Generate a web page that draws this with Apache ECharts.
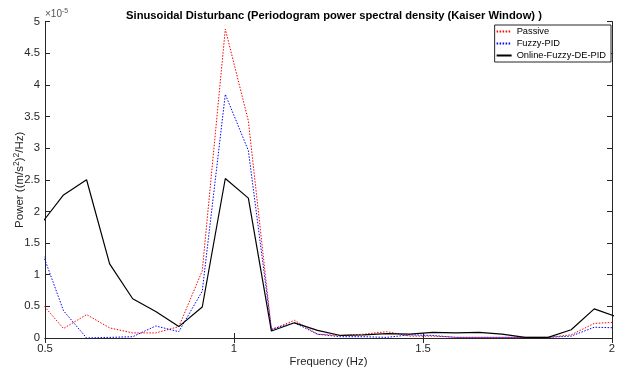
<!DOCTYPE html>
<html>
<head>
<meta charset="utf-8">
<script src="https://cdn.jsdelivr.net/npm/echarts@6/dist/echarts.min.js"></script>
<style>html,body{margin:0;padding:0;background:#fff}#c{width:625px;height:375px}</style>
</head>
<body>
<div id="c"></div>
<script>
// Frequencies (Hz), periodogram bins
var freq = [0.488, 0.549, 0.610, 0.671, 0.732, 0.793, 0.854, 0.916, 0.977, 1.038, 1.099, 1.160, 1.221, 1.282, 1.343, 1.404, 1.465, 1.526, 1.587, 1.648, 1.709, 1.770, 1.831, 1.892, 1.953, 2.014];
// Power values in units of 1e-5 (m/s^2)^2/Hz
var passive = [0.57, 0.15, 0.37, 0.16, 0.08, 0.08, 0.18, 1.06, 4.88, 3.43, 0.13, 0.28, 0.06, 0.04, 0.06, 0.10, 0.03, 0.03, 0.01, 0.01, 0.01, 0.01, 0.01, 0.05, 0.23, 0.25];
var fuzzyPID = [1.43, 0.43, 0.00, 0.01, 0.02, 0.19, 0.10, 0.74, 3.85, 2.96, 0.14, 0.24, 0.06, 0.02, 0.02, 0.01, 0.05, 0.04, 0.01, 0.01, 0.01, 0.01, 0.01, 0.03, 0.17, 0.16];
var onlineFuzzyDEPID = [1.79, 2.26, 2.50, 1.17, 0.62, 0.42, 0.18, 0.49, 2.52, 2.21, 0.11, 0.24, 0.12, 0.04, 0.05, 0.07, 0.06, 0.09, 0.08, 0.09, 0.06, 0.01, 0.01, 0.13, 0.46, 0.33];
var xTicks = [0.5, 1, 1.5, 2];
var seriesNames = ['Passive', 'Fuzzy-PID', 'Online-Fuzzy-DE-PID'];

function pairs(v) { return freq.map(function (f, i) { return [f, v[i]]; }); }

var FONT = 'Liberation Sans, Arial, Helvetica, sans-serif';
var AX = '#262626';
var chart = echarts.init(document.getElementById('c'), null, {renderer: 'canvas'});
var tick = {show: true, inside: true, length: 5, lineStyle: {color: AX, width: 1}};
chart.setOption({
  animation: false,
  backgroundColor: '#fff',
  title: {
    text: 'Sinusoidal Disturbanc (Periodogram power spectral density (Kaiser Window) )',
    left: 329, top: 5, textAlign: 'center',
    textStyle: {fontFamily: FONT, fontSize: 11.2, fontWeight: 'bold', color: '#000'}
  },
  grid: {left: 45, right: 13, top: 21.5, bottom: 37, containLabel: false, outerBoundsMode: 'none'},
  legend: {
    right: 14, top: 25, orient: 'vertical', itemWidth: 15, itemHeight: 9, itemGap: 3,
    padding: [2, 5, 2, 1],
    borderColor: AX, borderWidth: 1, backgroundColor: '#fff',
    itemStyle: {opacity: 0},
    textStyle: {fontFamily: FONT, fontSize: 9.3, color: '#000'},
    data: seriesNames
  },
  graphic: [{
    type: 'text', left: 45, top: 8,
    style: {text: '×10{s|-5}', fontFamily: FONT, fontSize: 10, fill: '#555',
      rich: {s: {fontSize: 7, verticalAlign: 'top', fill: '#555', padding: [0, 0, 6, 0]}}}
  }],
  xAxis: [{
    type: 'value', min: 0.5, max: 2, interval: 0.5,
    name: 'Frequency (Hz)', nameLocation: 'middle', nameGap: 18, nameMoveOverlap: false,
    nameTextStyle: {fontFamily: FONT, fontSize: 11.3, color: AX},
    axisLine: {show: true, lineStyle: {color: AX, width: 1}},
    axisTick: tick, splitLine: {show: false},
    axisLabel: {fontFamily: FONT, fontSize: 11.3, color: AX, margin: 5,
      customValues: xTicks}
  }, {
    type: 'value', min: 0.5, max: 2, interval: 0.5, position: 'top',
    axisLine: {show: true, lineStyle: {color: AX, width: 1}},
    axisTick: tick, splitLine: {show: false}, axisLabel: {show: false}
  }],
  yAxis: [{
    type: 'value', min: 0, max: 5, interval: 0.5,
    name: 'Power ((m/s{s|2}){s|2}/Hz)', nameLocation: 'middle', nameGap: 18, nameMoveOverlap: false,
    nameTextStyle: {fontFamily: FONT, fontSize: 11.5, color: AX,
      rich: {s: {fontSize: 8.5, verticalAlign: 'top', padding: [0, 0, 6, 0], fontFamily: FONT, color: AX}}},
    axisLine: {show: true, lineStyle: {color: AX, width: 1}},
    axisTick: tick, splitLine: {show: false},
    axisLabel: {fontFamily: FONT, fontSize: 11.3, color: AX, margin: 5}
  }, {
    type: 'value', min: 0, max: 5, interval: 0.5, position: 'right',
    axisLine: {show: true, lineStyle: {color: AX, width: 1}},
    axisTick: tick, splitLine: {show: false}, axisLabel: {show: false}
  }],
  series: [{
    name: seriesNames[0], type: 'line', data: pairs(passive), symbol: 'none', clip: true,
    itemStyle: {color: '#ff0000'},
    lineStyle: {color: '#ff0000', width: 1, type: [1.5, 1.5]}
  }, {
    name: seriesNames[1], type: 'line', data: pairs(fuzzyPID), symbol: 'none', clip: true,
    itemStyle: {color: '#0000ff'},
    lineStyle: {color: '#0000ff', width: 1, type: [1.5, 1.5]}
  }, {
    name: seriesNames[2], type: 'line', data: pairs(onlineFuzzyDEPID), symbol: 'none', clip: true,
    itemStyle: {color: '#000000'},
    lineStyle: {color: '#000000', width: 1.2, type: 'solid'}
  }]
});
</script>
</body>
</html>
